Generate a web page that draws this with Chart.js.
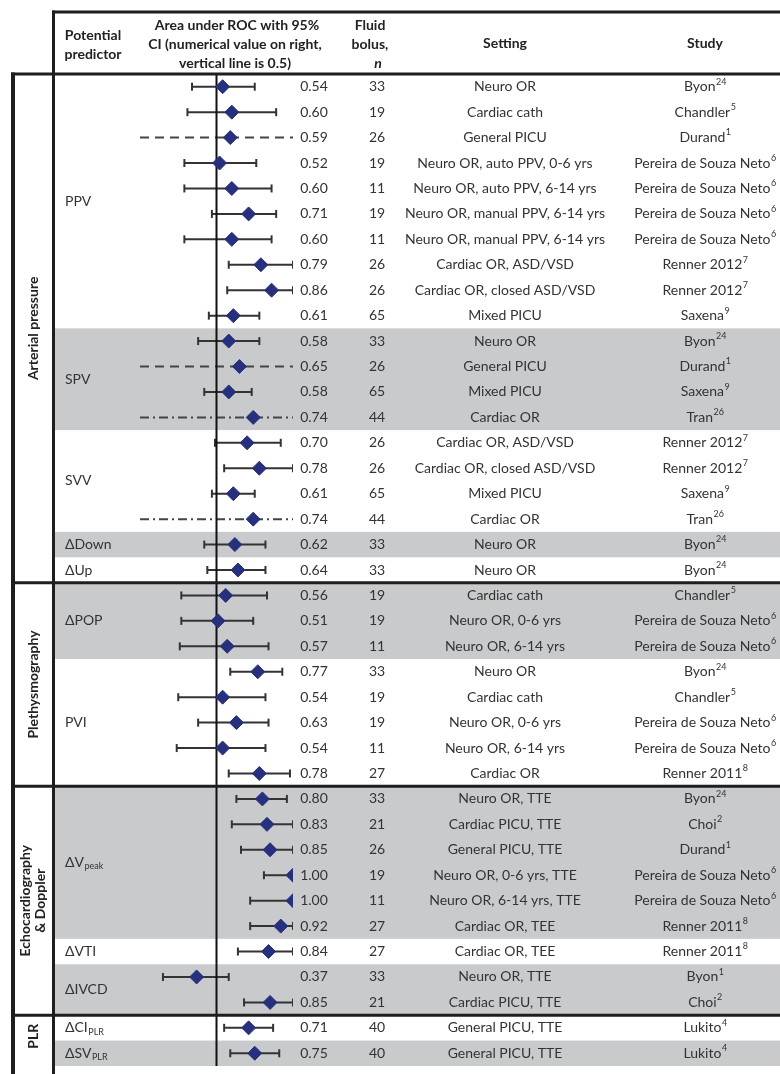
<!DOCTYPE html>
<html>
<head>
<meta charset="utf-8">
<script src="https://cdn.jsdelivr.net/npm/chart.js@4.4.1/dist/chart.umd.min.js"></script>
<style>
  html, body { margin: 0; padding: 0; background: #fff; }
  canvas { display: block; }
</style>
</head>
<body>
<canvas id="forest" width="780" height="1074"></canvas>
<script>
// sections (rotated labels on the far left) and how many rows each spans
const sectionLabels = [['Arterial pressure'], ['Plethysmography'], ['Echocardiography', '& Doppler'], ['PLR']];
const sectionRows = [20, 8, 9, 2];

// predictors, with subscript and number of rows
const predictorLabels = ['PPV', 'SPV', 'SVV', 'ΔDown', 'ΔUp', 'ΔPOP', 'PVI', 'ΔV', 'ΔVTI', 'ΔIVCD', 'ΔCI', 'ΔSV'];
const predictorSubs = ['', '', '', '', '', '', '', 'peak', '', '', 'PLR', 'PLR'];
const predictorRows = [10, 4, 4, 1, 1, 3, 5, 6, 1, 2, 1, 1];

// one entry per study row
const auc = [0.54, 0.60, 0.59, 0.52, 0.60, 0.71, 0.60, 0.79, 0.86, 0.61,
  0.58, 0.65, 0.58, 0.74,
  0.70, 0.78, 0.61, 0.74,
  0.62, 0.64,
  0.56, 0.51, 0.57,
  0.77, 0.54, 0.63, 0.54, 0.78,
  0.80, 0.83, 0.85, 1.00, 1.00, 0.92,
  0.84,
  0.37, 0.85,
  0.71, 0.75];
const ciLow = [0.34, 0.31, null, 0.29, 0.29, 0.47, 0.29, 0.58, 0.57, 0.45,
  0.38, null, 0.42, null,
  0.49, 0.55, 0.47, null,
  0.42, 0.44,
  0.27, 0.27, 0.26,
  0.59, 0.25, 0.38, 0.24, 0.58,
  0.63, 0.60, 0.66, 0.81, 0.72, 0.72,
  0.64,
  0.15, 0.68,
  0.55, 0.59];
const ciHigh = [0.75, 0.89, null, 0.76, 0.86, 0.89, 0.86, 1.00, 1.00, 0.78,
  0.78, null, 0.73, null,
  0.92, 1.00, 0.75, null,
  0.82, 0.82,
  0.83, 0.74, 0.84,
  0.93, 0.82, 0.84, 0.82, 0.98,
  0.96, 1.00, 1.00, 1.00, 1.00, 1.00,
  1.00,
  0.58, 1.00,
  0.87, 0.91];
// rows with no reported CI: drawn across the whole axis
const ciStyle = ['solid', 'solid', 'dash', 'solid', 'solid', 'solid', 'solid', 'solid', 'solid', 'solid',
  'solid', 'dash', 'solid', 'dashdot',
  'solid', 'solid', 'solid', 'dashdot',
  'solid', 'solid',
  'solid', 'solid', 'solid',
  'solid', 'solid', 'solid', 'solid', 'solid',
  'solid', 'solid', 'solid', 'solid', 'solid', 'solid',
  'solid',
  'solid', 'solid',
  'solid', 'solid'];
const bolusN = [33, 19, 26, 19, 11, 19, 11, 26, 26, 65,
  33, 26, 65, 44,
  26, 26, 65, 44,
  33, 33,
  19, 19, 11,
  33, 19, 19, 11, 27,
  33, 21, 26, 19, 11, 27,
  27,
  33, 21,
  40, 40];
const settings = ['Neuro OR', 'Cardiac cath', 'General PICU', 'Neuro OR, auto PPV, 0-6 yrs', 'Neuro OR, auto PPV, 6-14 yrs',
  'Neuro OR, manual PPV, 6-14 yrs', 'Neuro OR, manual PPV, 6-14 yrs', 'Cardiac OR, ASD/VSD', 'Cardiac OR, closed ASD/VSD', 'Mixed PICU',
  'Neuro OR', 'General PICU', 'Mixed PICU', 'Cardiac OR',
  'Cardiac OR, ASD/VSD', 'Cardiac OR, closed ASD/VSD', 'Mixed PICU', 'Cardiac OR',
  'Neuro OR', 'Neuro OR',
  'Cardiac cath', 'Neuro OR, 0-6 yrs', 'Neuro OR, 6-14 yrs',
  'Neuro OR', 'Cardiac cath', 'Neuro OR, 0-6 yrs', 'Neuro OR, 6-14 yrs', 'Cardiac OR',
  'Neuro OR, TTE', 'Cardiac PICU, TTE', 'General PICU, TTE', 'Neuro OR, 0-6 yrs, TTE', 'Neuro OR, 6-14 yrs, TTE', 'Cardiac OR, TEE',
  'Cardiac OR, TEE',
  'Neuro OR, TTE', 'Cardiac PICU, TTE',
  'General PICU, TTE', 'General PICU, TTE'];
const PSN = 'Pereira de Souza Neto';
const studies = ['Byon', 'Chandler', 'Durand', PSN, PSN, PSN, PSN, 'Renner 2012', 'Renner 2012', 'Saxena',
  'Byon', 'Durand', 'Saxena', 'Tran',
  'Renner 2012', 'Renner 2012', 'Saxena', 'Tran',
  'Byon', 'Byon',
  'Chandler', PSN, PSN,
  'Byon', 'Chandler', PSN, PSN, 'Renner 2011',
  'Byon', 'Choi', 'Durand', PSN, PSN, 'Renner 2011',
  'Renner 2011',
  'Byon', 'Choi',
  'Lukito', 'Lukito'];
const studyRefs = ['24', '5', '1', '6', '6', '6', '6', '7', '7', '9',
  '24', '1', '9', '26',
  '7', '7', '9', '26',
  '24', '24',
  '5', '6', '6',
  '24', '5', '6', '6', '8',
  '24', '2', '1', '6', '6', '8',
  '8',
  '1', '2',
  '4', '4'];

const FONT = 'Lato, "Open Sans", sans-serif';
const TEXT = '#333';
const RULE = '#1e1e1e';
const SHADE = '#c9cacc';
const DIAMOND = '#27307c';
const W = 780, H = 1074;
const HEADER_TOP = 12, BODY_TOP = 74;
const X_OUTER = 13, X_DIV = 53.5;
const X_SECTION = 33, X_PRED = 65, X_VALUE = 314, X_N = 377, X_SETTING = 505, X_STUDY = 705;

function line(ctx, x1, y1, x2, y2, w) {
  ctx.lineWidth = w;
  ctx.beginPath();
  ctx.moveTo(x1, y1);
  ctx.lineTo(x2, y2);
  ctx.stroke();
}

const tablePlugin = {
  id: 'table',
  beforeDatasetsDraw(chart) {
    const ctx = chart.ctx, ys = chart.scales.y;
    ctx.save();
    ctx.fillStyle = SHADE;
    let start = 0;
    predictorRows.forEach((cnt, g) => {
      if (g % 2 === 1) {
        const top = ys.getPixelForValue(start - 0.5);
        const bot = ys.getPixelForValue(start + cnt - 0.5);
        ctx.fillRect(X_DIV + 1.5, top, W - X_DIV, bot - top);
      }
      start += cnt;
    });
    ctx.restore();
  },
  afterDatasetsDraw(chart) {
    const ctx = chart.ctx, ys = chart.scales.y;
    ctx.save();
    ctx.strokeStyle = RULE;
    ctx.lineCap = 'butt';

    // frame
    line(ctx, X_DIV - 1.5, HEADER_TOP, W, HEADER_TOP, 3);
    line(ctx, X_OUTER - 2, BODY_TOP, W, BODY_TOP, 3);
    line(ctx, X_DIV, HEADER_TOP - 1.5, X_DIV, H, 3);
    line(ctx, X_OUTER, BODY_TOP - 1.5, X_OUTER, H, 4);
    let r = 0;
    sectionRows.forEach((cnt, i) => {
      r += cnt;
      if (i < sectionRows.length - 1) {
        const y = ys.getPixelForValue(r - 0.5);
        line(ctx, X_OUTER - 2, y, W, y, 3);
      }
    });

    // header
    ctx.fillStyle = '#222';
    ctx.textAlign = 'center';
    ctx.textBaseline = 'middle';
    ctx.font = 'bold 14px ' + FONT;
    ctx.fillText('Potential', 93, 35);
    ctx.fillText('predictor', 93, 54);
    ctx.fillText('Area under ROC with 95%', 237, 25);
    ctx.fillText('CI (numerical value on right,', 235, 44);
    ctx.fillText('vertical line is 0.5)', 235, 63);
    ctx.fillText('Fluid', 370, 25);
    ctx.fillText('bolus,', 370, 44);
    ctx.fillText('Setting', X_SETTING, 43);
    ctx.fillText('Study', X_STUDY, 43);
    ctx.font = 'italic bold 14px ' + FONT;
    ctx.fillText('n', 378, 63);

    // section labels, rotated
    ctx.font = 'bold 14px ' + FONT;
    r = 0;
    sectionRows.forEach((cnt, i) => {
      const top = ys.getPixelForValue(r - 0.5);
      const bot = i === sectionRows.length - 1 ? ys.getPixelForValue(r + cnt - 1) + 4 : ys.getPixelForValue(r + cnt - 0.5);
      const lines = sectionLabels[i];
      ctx.save();
      ctx.translate(X_SECTION, (top + bot) / 2);
      ctx.rotate(-Math.PI / 2);
      lines.forEach((t, k) => ctx.fillText(t, 0, (k - (lines.length - 1) / 2) * 15));
      ctx.restore();
      r += cnt;
    });

    // predictor labels
    ctx.fillStyle = TEXT;
    ctx.textAlign = 'left';
    r = 0;
    predictorRows.forEach((cnt, g) => {
      const y = (ys.getPixelForValue(r) + ys.getPixelForValue(r + cnt - 1)) / 2;
      ctx.font = '14px ' + FONT;
      ctx.fillText(predictorLabels[g], X_PRED, y);
      if (predictorSubs[g]) {
        const w = ctx.measureText(predictorLabels[g]).width;
        ctx.font = '9px ' + FONT;
        ctx.fillText(predictorSubs[g], X_PRED + w + 0.5, y + 4);
      }
      r += cnt;
    });

    // per-row columns
    auc.forEach((v, i) => {
      const y = ys.getPixelForValue(i);
      ctx.font = '14px ' + FONT;
      ctx.textAlign = 'center';
      ctx.fillText(v.toFixed(2), X_VALUE, y);
      ctx.fillText(String(bolusN[i]), X_N, y);
      ctx.fillText(settings[i], X_SETTING, y);
      ctx.textAlign = 'left';
      const w1 = ctx.measureText(studies[i]).width;
      ctx.font = '9px ' + FONT;
      const w2 = ctx.measureText(studyRefs[i]).width;
      const x0 = X_STUDY - (w1 + w2) / 2;
      ctx.fillText(studyRefs[i], x0 + w1 + 0.5, y - 5);
      ctx.font = '14px ' + FONT;
      ctx.fillText(studies[i], x0, y);
    });
    ctx.restore();
  }
};

const rowIdx = auc.map((_, i) => i);
const whiskers = rowIdx.map(i => {
  const dashed = ciStyle[i] !== 'solid';
  return {
    type: 'scatter',
    showLine: true,
    order: 2,
    data: dashed ? [{ x: 0, y: i }, { x: 1, y: i }] : [{ x: ciLow[i], y: i }, { x: ciHigh[i], y: i }],
    borderColor: dashed ? '#444' : '#333',
    borderWidth: 2,
    borderDash: ciStyle[i] === 'dash' ? [9, 6] : ciStyle[i] === 'dashdot' ? [9, 4, 2, 4] : [],
    pointStyle: 'line',
    rotation: 90,
    pointRadius: dashed ? 0 : 4,
    pointBorderWidth: 2,
    pointBorderColor: '#333'
  };
});

new Chart(document.getElementById('forest'), {
  type: 'scatter',
  data: {
    datasets: [
      {
        data: rowIdx.map(i => ({ x: auc[i], y: i })),
        order: 0,
        clip: 0,
        pointStyle: 'rectRot',
        pointRadius: 7,
        backgroundColor: DIAMOND,
        borderColor: DIAMOND,
        borderWidth: 1
      },
      {
        // reference line at AUC 0.5
        data: [{ x: 0.5, y: -0.5 }, { x: 0.5, y: auc.length - 0.5 }],
        showLine: true,
        order: 1,
        borderColor: '#111',
        borderWidth: 2,
        pointRadius: 0
      },
      ...whiskers
    ]
  },
  options: {
    responsive: false,
    animation: false,
    events: [],
    layout: { padding: { left: 140, right: W - 293, top: BODY_TOP, bottom: 0 } },
    scales: {
      x: { type: 'linear', min: 0, max: 1, display: false },
      y: { type: 'linear', min: -0.5, max: auc.length - 0.5, reverse: true, display: false }
    },
    plugins: { legend: { display: false }, tooltip: { enabled: false } }
  },
  plugins: [tablePlugin]
});
</script>
</body>
</html>
